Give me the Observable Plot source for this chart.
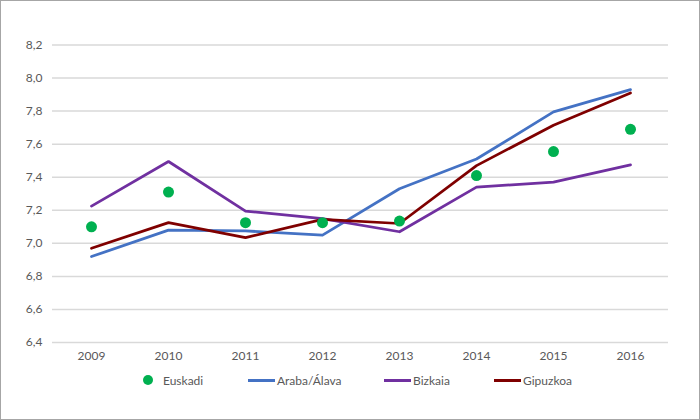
<!DOCTYPE html>
<html>
<head>
<meta charset="utf-8">
<script src="https://cdn.jsdelivr.net/npm/d3@7"></script>
<script src="https://cdn.jsdelivr.net/npm/@observablehq/plot@0.6"></script>
<style>
  html, body { margin: 0; padding: 0; background: #fff; }
  #wrap { position: relative; width: 700px; height: 420px; overflow: hidden; font-family: Lato, "Open Sans", sans-serif; }
  #border { position: absolute; left: 0; top: 0; width: 700px; height: 420px; box-sizing: border-box; border: 1.5px solid #a6a6a6; pointer-events: none; }
  #legend { position: relative; height: 20px; font-size: 12px; color: #595959; }
  .item { position: absolute; top: 0; height: 20px; display: flex; align-items: center; white-space: nowrap; }
  .mark { width: 27px; height: 12px; display: flex; align-items: center; justify-content: center; margin-right: 2px; }
  .dotm { width: 10px; height: 10px; border-radius: 50%; }
  .linem { width: 27px; height: 3px; }
</style>
</head>
<body>
<div id="wrap">
  <div id="chart"></div>
  <div id="legend"></div>
  <div id="border"></div>
</div>
<script>
const years = [2009, 2010, 2011, 2012, 2013, 2014, 2015, 2016];
const euskadi  = [7.10, 7.31, 7.125, 7.125, 7.135, 7.41, 7.555, 7.69];
const araba    = [6.92, 7.08, 7.075, 7.05, 7.33, 7.51, 7.795, 7.93];
const bizkaia  = [7.225, 7.495, 7.195, 7.15, 7.07, 7.34, 7.37, 7.475];
const gipuzkoa = [6.97, 7.125, 7.035, 7.145, 7.12, 7.47, 7.715, 7.91];
const yTicks = [6.4, 6.6, 6.8, 7.0, 7.2, 7.4, 7.6, 7.8, 8.0, 8.2];

const seriesNames = ["Euskadi", "Araba/Álava", "Bizkaia", "Gipuzkoa"];
const seriesColors = ["#00B050", "#4472C4", "#7030A0", "#7F0000"];
const legendLeft = [134, 248, 384, 494];

const rows = (vals) => years.map((y, i) => ({year: y, value: vals[i]}));
const fmt = d => d3.format(".1f")(d).replace(".", ",");

const chart = Plot.plot({
  width: 700,
  height: 370,
  marginTop: 44.5,
  marginBottom: 28,
  marginLeft: 52,
  marginRight: 32,
  style: {fontFamily: "Lato, 'Open Sans', sans-serif", fontSize: "12px", color: "#595959", background: "transparent", overflow: "visible"},
  x: {type: "point", domain: years, padding: 0.5, label: null},
  y: {domain: [6.4, 8.2], label: null},
  marks: [
    Plot.ruleY(yTicks, {stroke: "#d9d9d9", strokeWidth: 1.5}),
    Plot.axisY({ticks: yTicks, tickSize: 0, tickPadding: 10, tickFormat: fmt, label: null}),
    Plot.axisX({tickSize: 0, tickPadding: 9, tickFormat: d => String(d), label: null}),
    Plot.line(rows(araba), {x: "year", y: "value", stroke: seriesColors[1], strokeWidth: 2.75}),
    Plot.line(rows(bizkaia), {x: "year", y: "value", stroke: seriesColors[2], strokeWidth: 2.75}),
    Plot.line(rows(gipuzkoa), {x: "year", y: "value", stroke: seriesColors[3], strokeWidth: 2.75}),
    Plot.dot(rows(euskadi), {x: "year", y: "value", r: 5.5, fill: seriesColors[0], stroke: null})
  ]
});
document.getElementById("chart").appendChild(chart);

const legend = document.getElementById("legend");
seriesNames.forEach((name, i) => {
  const item = document.createElement("div");
  item.className = "item";
  item.style.left = legendLeft[i] + "px";
  const m = document.createElement("div");
  m.className = "mark";
  const inner = document.createElement("div");
  inner.className = i === 0 ? "dotm" : "linem";
  inner.style.background = seriesColors[i];
  m.appendChild(inner);
  item.appendChild(m);
  const t = document.createElement("span");
  t.textContent = name;
  item.appendChild(t);
  legend.appendChild(item);
});
</script>
</body>
</html>
